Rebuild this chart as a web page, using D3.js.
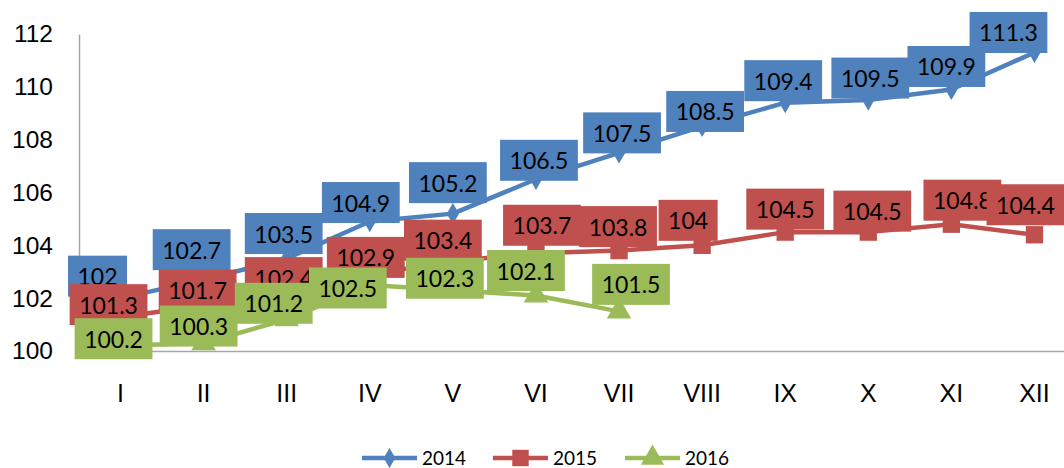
<!DOCTYPE html>
<html><head><meta charset="utf-8">
<script src="https://cdn.jsdelivr.net/npm/d3@7"></script>
<style>body{margin:0;background:#fff}svg{display:block}
.ax text{font-family:"Liberation Sans",Arial,sans-serif;fill:#000}
</style>
</head><body>
<svg id="c" width="1064" height="468"></svg>
<script>
const categories = ["I","II","III","IV","V","VI","VII","VIII","IX","X","XI","XII"];
const yTicks = [100,102,104,106,108,110,112];
const seriesNames = ["2014","2015","2016"];
const values2014 = [102,102.7,103.5,104.9,105.2,106.5,107.5,108.5,109.4,109.5,109.9,111.3];
const values2015 = [101.3,101.7,102.4,102.9,103.4,103.7,103.8,104,104.5,104.5,104.8,104.4];
const values2016 = [100.2,100.3,101.2,102.5,102.3,102.1,101.5];

// label placement offsets (px) relative to each point
const labelDx2014 = [-23,-12,-3,-9,-5,3,3,3,-2,2,-5,-26];
const labelDy2014 = [-22,-30,-25,-19,-31,-19,-20,-15,-22,-22,-23,-20];
const labelDx2015 = [-12,-6,-3,-4,-10,6,-1,-14,0,4,11,-9];
const labelDy2015 = [-12,-16,-10,-17,-21,-28,-24,-25,-23,-21,-24,-30];
const labelDx2016 = [-7,-5,-13,-22,-8,-10,12];
const labelDy2016 = [-7,-17,-16,3,-12,-25,-27];

const colors = ["#4F81BD","#C0504D","#9BBB59"];
const markers = [d3.symbolDiamond, d3.symbolSquare, d3.symbolTriangle];
const markerSizes = [130, 300, 260];

const series = [
  {name: seriesNames[0], values: values2014, dx: labelDx2014, dy: labelDy2014},
  {name: seriesNames[1], values: values2015, dx: labelDx2015, dy: labelDy2015},
  {name: seriesNames[2], values: values2016, dx: labelDx2016, dy: labelDy2016}
];

const svg = d3.select("#c");
const x = d3.scaleBand().domain(categories).range([79, 1076]);
const y = d3.scaleLinear().domain([100,112]).range([351, 34]);
const cx = c => x(c) + x.bandwidth()/2;

// axes
const gy = svg.append("g").attr("class","ax").attr("transform","translate(79,0)")
  .call(d3.axisLeft(y).tickValues(yTicks).tickSize(0).tickPadding(26));
gy.select(".domain").attr("stroke","#A6A6A6").attr("stroke-width",1.5);
gy.selectAll("text").attr("font-family",null).style("font-size","24.5px");

const gx = svg.append("g").attr("class","ax").attr("transform","translate(0,351)")
  .call(d3.axisBottom(x).tickSize(0).tickPadding(33));
gx.select(".domain").attr("stroke","#A6A6A6").attr("stroke-width",1.5);
gx.selectAll("text").attr("font-family",null).style("font-size","25px");
gy.attr("font-family",null); gx.attr("font-family",null);

const line = d3.line().x((d,i)=>cx(categories[i])).y(d=>y(d));

series.forEach((s,k)=>{
  svg.append("path").attr("d", line(s.values)).attr("fill","none")
    .attr("stroke", colors[k]).attr("stroke-width",4.5).attr("stroke-linejoin","round");
  svg.append("g").selectAll("path").data(s.values).join("path")
    .attr("d", d3.symbol().type(markers[k]).size(markerSizes[k]))
    .attr("transform",(d,i)=>`translate(${cx(categories[i])},${y(d)})`)
    .attr("fill", colors[k]);
});

// labels
series.forEach((s,k)=>{
  const g = svg.append("g");
  s.values.forEach((v,i)=>{
    const px = cx(categories[i]) + s.dx[i];
    const py = y(v) + s.dy[i];
    const lg = g.append("g");
    const rect = lg.append("rect").attr("fill", colors[k]);
    const t = lg.append("text").text(String(v))
      .attr("x", px).attr("y", py).attr("text-anchor","middle").attr("dominant-baseline","central")
      .attr("font-family","Lato, 'Open Sans', sans-serif").attr("font-size",23).attr("fill","#000");
    const w = t.node().getComputedTextLength() + 19;
    rect.attr("x", px - w/2).attr("y", py - 20.5).attr("width", w).attr("height", 41);
  });
});

// legend
const legendX = [362, 493, 625];
const lgd = svg.append("g");
series.forEach((s,k)=>{
  const lx = legendX[k], ly = 458;
  lgd.append("line").attr("x1",lx).attr("x2",lx+55).attr("y1",ly).attr("y2",ly)
    .attr("stroke",colors[k]).attr("stroke-width",4.5);
  lgd.append("path").attr("d", d3.symbol().type(markers[k]).size(markerSizes[k]*0.9))
    .attr("transform",`translate(${lx+27.5},${ly})`).attr("fill",colors[k]);
  lgd.append("text").text(s.name).attr("x", lx+60).attr("y", ly + 6.5)
    .attr("font-family","Lato, 'Open Sans', sans-serif").attr("font-size",19).attr("fill","#000");
});
</script>
</body></html>
